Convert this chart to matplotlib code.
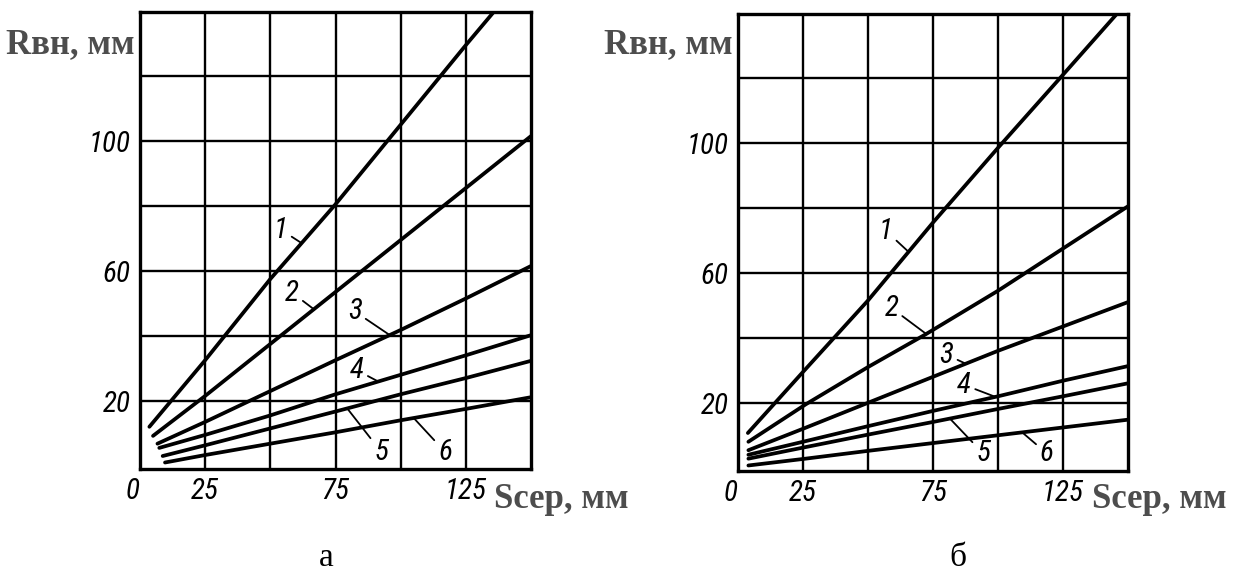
import numpy as np
import matplotlib
matplotlib.use("Agg")
from matplotlib import pyplot as plt
from matplotlib import font_manager as fm

# panel "а": separation S (mm) -> radius R (mm), curves 1..6
a1_s = [3.6, 25, 50, 75, 100, 125, 136]
a1_r = [12, 32.5, 57.5, 80.5, 105, 129.5, 140]
a2_s = [5, 25, 50, 75, 100, 125, 150]
a2_r = [9.2, 21.5, 37.5, 53.5, 69.5, 85.5, 101.5]
a3_s = [6.7, 25, 50, 75, 100, 125, 150]
a3_r = [6.8, 13.5, 23, 32.5, 41.8, 51.5, 61.5]
a4_s = [7.4, 25, 50, 75, 100, 125, 150]
a4_r = [5.5, 9.5, 15.5, 22, 28, 34, 40.2]
a5_s = [8.7, 25, 50, 75, 100, 125, 150]
a5_r = [3, 6.3, 11.5, 16.7, 22, 27, 32.3]
a6_s = [9.6, 25, 50, 75, 100, 125, 150]
a6_r = [1, 3.3, 6.8, 10.3, 14, 17.5, 21.1]

# panel "б"
b1_s = [3.8, 25, 50, 75, 100, 125, 146]
b1_r = [10.7, 29.5, 51.5, 75.5, 98.5, 121, 140]
b2_s = [4, 26, 50, 72, 100, 125, 150]
b2_r = [8, 19.5, 31, 41, 54.5, 67.5, 80.5]
b3_s = [4, 25, 50, 75, 100, 125, 150]
b3_r = [5.4, 12, 20, 28, 36, 43.5, 51]
b4_s = [4, 25, 50, 75, 100, 125, 150]
b4_r = [4, 8, 12.8, 17.5, 22, 26.8, 31.3]
b5_s = [4, 25, 50, 75, 100, 125, 150]
b5_r = [2.8, 6.2, 10.2, 14.1, 18.1, 22, 26]
b6_s = [4, 25, 50, 75, 100, 125, 150]
b6_r = [0.7, 2.7, 5.2, 7.6, 10, 12.4, 14.8]

curve_names = ["1", "2", "3", "4", "5", "6"]

# number labels and where their leader lines touch the curves
a_lab_s = [54, 58.3, 82.4, 83.2, 92.5, 117]
a_lab_r = [72.7, 53.3, 47.5, 29.4, 4.3, 4.3]
a_tip_s = [62, 66.7, 95.8, 91.4, 79.5, 105]
b_lab_s = [56.8, 59, 80.2, 87, 94.3, 118.8]
b_lab_r = [73, 49.2, 34.8, 25.5, 4.4, 4.4]
b_tip_s = [65.6, 72.4, 87.6, 99, 81.5, 109.3]

x_ticks = [0, 25, 75, 125]
y_ticks = [20, 60, 100]
x_grid = [25, 50, 75, 100, 125]
y_grid = [20, 40, 60, 80, 100, 120]
panel_names = ["а", "б"]


def pick_font(names):
    for n in names:
        try:
            fm.findfont(fm.FontProperties(family=n), fallback_to_default=False)
            return n
        except ValueError:
            pass
    return "DejaVu Sans"


narrow = pick_font(["Roboto Condensed", "Liberation Sans Narrow", "DejaVu Sans Condensed"])
num_size = 21 if narrow != "DejaVu Sans" else 16
serif = pick_font(["Liberation Serif", "DejaVu Serif"])

W, H = 1233, 574
fig = plt.figure(figsize=(W / 100, H / 100), dpi=100)

panels = [
    dict(box=(140, 12, 531, 469),
         curves=[(a1_s, a1_r), (a2_s, a2_r), (a3_s, a3_r), (a4_s, a4_r), (a5_s, a5_r), (a6_s, a6_r)],
         lab_s=a_lab_s, lab_r=a_lab_r, tip_s=a_tip_s, title_x=326),
    dict(box=(738, 14, 1128, 471),
         curves=[(b1_s, b1_r), (b2_s, b2_r), (b3_s, b3_r), (b4_s, b4_r), (b5_s, b5_r), (b6_s, b6_r)],
         lab_s=b_lab_s, lab_r=b_lab_r, tip_s=b_tip_s, title_x=958),
]

for p, name in zip(panels, panel_names):
    x0, y0, x1, y1 = p["box"]
    ax = fig.add_axes([x0 / W, 1 - y1 / H, (x1 - x0) / W, (y1 - y0) / H])
    ax.set_xlim(0, 150)
    ax.set_ylim(-1, 139.7)

    for g in x_grid:
        ax.axvline(g, color="black", lw=1.7, zorder=1)
    for g in y_grid:
        ax.axhline(g, color="black", lw=1.7, zorder=1)

    for s, r in p["curves"]:
        ax.plot(s, r, color="black", lw=2.7, solid_capstyle="round", zorder=3)

    for i, nm in enumerate(curve_names):
        s, r = p["curves"][i]
        tip = (p["tip_s"][i], np.interp(p["tip_s"][i], s, r))
        ax.annotate(nm, xy=tip, xytext=(p["lab_s"][i], p["lab_r"][i]),
                    fontsize=num_size, family=narrow, style="italic",
                    ha="center", va="center", zorder=4,
                    arrowprops=dict(arrowstyle="-", color="black", lw=1.3,
                                    shrinkA=1, shrinkB=0))

    for sp in ax.spines.values():
        sp.set_linewidth(2.4)
    ax.set_xticks(x_ticks)
    ax.set_xticklabels([str(t) for t in x_ticks])
    ax.set_yticks(y_ticks)
    ax.set_yticklabels([str(t) for t in y_ticks])
    ax.tick_params(length=0, labelsize=num_size)
    ax.tick_params(axis="x", pad=6)
    ax.tick_params(axis="y", pad=7)
    for lbl in ax.get_xticklabels() + ax.get_yticklabels():
        lbl.set_family(narrow)
        lbl.set_style("italic")
    ax.get_xticklabels()[0].set_ha("right")

    # axis captions and panel letter
    fig.text((x0 - 5) / W, 1 - 53 / H, "Rвн, мм", ha="right", va="baseline",
             family=serif, weight="bold", fontsize=25, color="#4d4d4d")
    fig.text((x0 + 354) / W, 1 - 508 / H, "Sсер, мм", ha="left", va="baseline",
             family=serif, weight="bold", fontsize=25, color="#4d4d4d")
    fig.text(p["title_x"] / W, 1 - 573 / H, name, ha="center", va="bottom",
             family=serif, fontsize=24, color="black")

fig.savefig("out.png", dpi=100)
